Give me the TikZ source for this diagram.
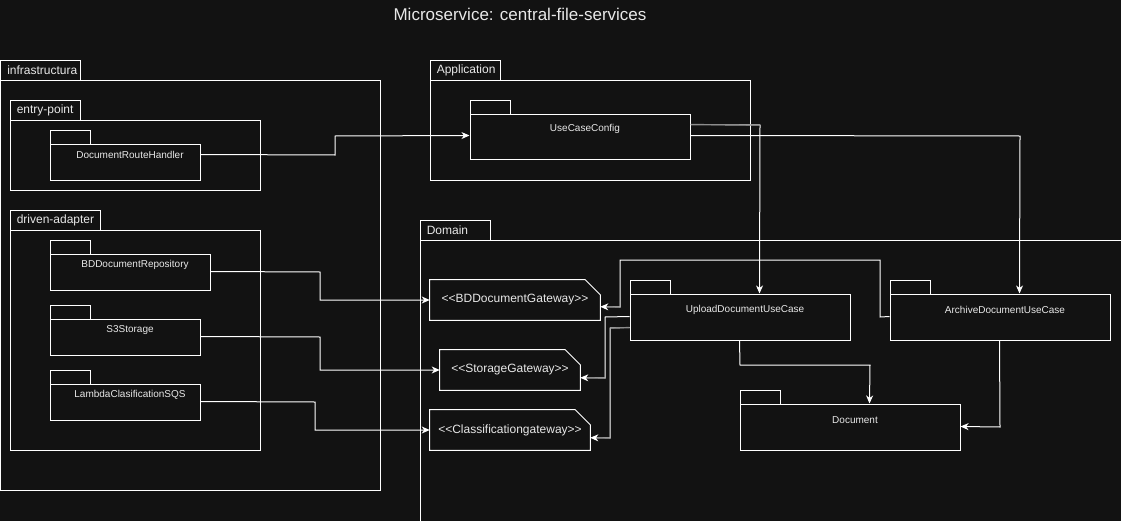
\documentclass[tikz,border=0pt]{standalone}
\usepackage{fontspec}
\setmainfont{Liberation Sans}
\usetikzlibrary{arrows.meta,fit,calc}
\definecolor{bg}{RGB}{18,18,18}
\definecolor{fg}{RGB}{255,255,255}
\definecolor{txt}{RGB}{232,232,232}
\definecolor{dim}{RGB}{140,140,140}
\tikzset{
  box/.style={draw=fg, line width=0.75pt, inner sep=0pt},
  hidden/.style={inner sep=0pt},
  tablabel/.style={text=txt, anchor=west, inner sep=0pt, font=\fontsize{9}{10}\selectfont},
  pkglabel/.style={text=txt, inner sep=0pt, font=\fontsize{7.5}{9}\selectfont},
  gwlabel/.style={text=txt, inner sep=0pt, font=\fontsize{9}{10}\selectfont},
  wire/.style={draw=fg, line width=0.75pt},
  arr/.style={wire, -{Stealth[length=6pt,width=5.2pt,inset=1.8pt]}},
  graywire/.style={draw=dim, line width=0.9pt},
}
\begin{document}
\begin{tikzpicture}[x=0.75pt,y=-0.75pt]
\useasboundingbox (0,0) rectangle (1121,521);
\fill[bg] (0,0) rectangle (1121,521);
\clip (0,0) rectangle (1121,521);

% title
\node[text=txt, inner sep=0pt, font=\fontsize{12.75}{14}\selectfont] (title) at (520,14) {Microservice: central-file-services};

% big packages
\node[box, fit={(0.5,60)(80,80)}] (infra-tab) {};
\node[box, fit={(0.5,80)(380,490)}] (infra) {};
\node[tablabel] (infra-l) at ($(infra-tab.west)+(7,0)$) {infrastructura};

\node[box, fit={(10,100)(80,120)}] (entry-tab) {};
\node[box, fit={(10,120)(260,190)}] (entry) {};
\node[tablabel] (entry-l) at ($(entry-tab.west)+(7,0)$) {entry-point};

\node[box, fit={(10,210)(100,230)}] (driven-tab) {};
\node[box, fit={(10,230)(260,450)}] (driven) {};
\node[tablabel] (driven-l) at ($(driven-tab.west)+(7,0)$) {driven-adapter};

\node[box, fit={(430,60)(500,80)}] (app-tab) {};
\node[box, fit={(430,80)(750,180)}] (app) {};
\node[tablabel] (app-l) at ($(app-tab.west)+(7,0)$) {Application};

\node[box, fit={(420,220)(490,240)}] (dom-tab) {};
\node[box, fit={(420,240)(1140,540)}] (dom) {};
\node[tablabel] (dom-l) at ($(dom-tab.west)+(7,0)$) {Domain};

% small packages
\node[box, fit={(50,130)(90,144)}] (drh-tab) {};
\node[box, fit={(50,144)(200,180)}] (drh) {};
\node[pkglabel] (drh-l) at (130,155) {DocumentRouteHandler};

\node[box, fit={(50,240)(90,254)}] (bdr-tab) {};
\node[box, fit={(50,254)(210,290)}] (bdr) {};
\node[pkglabel] (bdr-l) at (135,265) {BDDocumentRepository};

\node[box, fit={(50,305)(90,319)}] (s3-tab) {};
\node[box, fit={(50,319)(200,355)}] (s3) {};
\node[pkglabel] (s3-l) at (130,330) {S3Storage};

\node[box, fit={(50,370)(90,384)}] (lam-tab) {};
\node[box, fit={(50,384)(200,420)}] (lam) {};
\node[pkglabel] (lam-l) at (130,395) {LambdaClasificationSQS};

\node[box, fit={(470,100)(510,114)}] (ucc-tab) {};
\node[box, fit={(470,114)(690,159)}] (ucc) {};
\node[pkglabel] (ucc-l) at (585,129) {UseCaseConfig};

\node[box, fit={(630,280)(670,294)}] (upl-tab) {};
\node[box, fit={(630,294)(850,340)}] (upl) {};
\node[pkglabel] (upl-l) at (745,310) {UploadDocumentUseCase};

\node[box, fit={(890,280)(930,294)}] (arc-tab) {};
\node[box, fit={(890,294)(1110,340)}] (arc) {};
\node[pkglabel] (arc-l) at (1005,310) {ArchiveDocumentUseCase};

\node[box, fit={(740,390)(780,404)}] (doc-tab) {};
\node[box, fit={(740,404)(960,450)}] (doc) {};
\node[pkglabel] (doc-l) at (855,420) {Document};

% gateways (notes)
\node[hidden, fit={(430,280)(600,320)}] (bdg) {};
\draw[wire] (bdg.north west) -- ($(bdg.north east)+(-15,0)$) -- ($(bdg.north east)+(0,15)$) -- (bdg.south east) -- (bdg.south west) -- cycle;
\node[gwlabel] (bdg-l) at (bdg.center) {<{}<BDDocumentGateway>{}>};

\node[hidden, fit={(440,350)(580,390)}] (stg) {};
\draw[wire] (stg.north west) -- ($(stg.north east)+(-15,0)$) -- ($(stg.north east)+(0,15)$) -- (stg.south east) -- (stg.south west) -- cycle;
\node[gwlabel] (stg-l) at (stg.center) {<{}<StorageGateway>{}>};

\node[hidden, fit={(430,410)(590,450)}] (clg) {};
\draw[wire] (clg.north west) -- ($(clg.north east)+(-15,0)$) -- ($(clg.north east)+(0,15)$) -- (clg.south east) -- (clg.south west) -- cycle;
\node[gwlabel] (clg-l) at (clg.center) {<{}<Classificationgateway>{}>};

% connectors
\draw[arr] ($(drh.north east)+(0,11)$) -- (335,155) -- (335,136) -- ($(ucc.north west)+(0,22)$);

\draw[arr] ($(ucc.north east)+(0,11)$) -- (760,125) -- ($(upl.north west)+(130,0)$);
\draw[graywire] ($(ucc.north east)+(0,11)$) -- (760,125);

\draw[arr] ($(ucc.north east)+(0,22)$) -- (1020,136) -- ($(arc.north west)+(130,0)$);

\draw[arr] ($(upl.south west)+(110,0)$) -- (740,365) -- (870,365) -- ($(doc.north west)+(130,0)$);

\draw[arr] ($(arc.south west)+(110,0)$) -- (1000,427) -- ($(doc.north east)+(0,23)$);

\draw[arr] ($(bdr.north east)+(0,18)$) -- (320,272) -- (320,300) -- (bdg.west);
\draw[arr] ($(s3.north east)+(0,18)$) -- (320,337) -- (320,370) -- (stg.west);
\draw[arr] ($(lam.north east)+(0,18)$) -- (315,402) -- (315,430) -- (clg.west);

\draw[arr] ($(upl.north west)+(0,23)$) -- (605,317) -- (605,378) -- ($(stg.north east)+(0,28)$);
\draw[graywire] (605,378) -- ($(stg.north east)+(7,28)$);

\draw[arr] ($(upl.north west)+(0,34)$) -- (610,328) -- (610,438) -- ($(clg.north east)+(0,28)$);
\draw[graywire] ($(upl.north west)+(0,34)$) -- (610,328);
\draw[graywire] (610,438) -- ($(clg.north east)+(7,28)$);

\draw[arr] ($(arc.north west)+(0,23)$) -- (880,317) -- (880,260) -- (620,260) -- (620,307) -- ($(bdg.north east)+(0,27)$);
\draw[graywire] (620,307) -- ($(bdg.north east)+(7,27)$);
\end{tikzpicture}
\end{document}
